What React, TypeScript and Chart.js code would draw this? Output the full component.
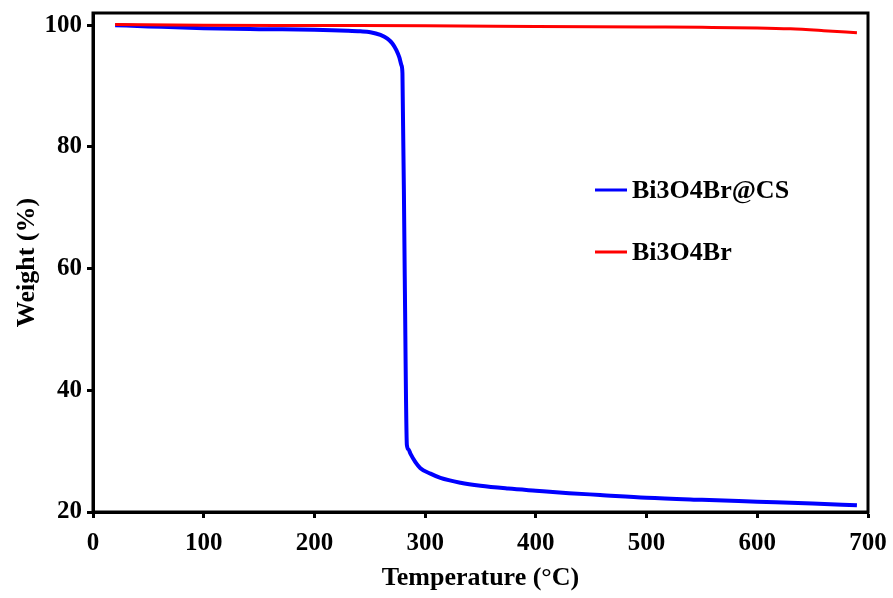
import React, { useEffect, useRef } from "react";
import { Chart, registerables } from "chart.js";

Chart.register(...registerables);

const seriesNames = ["Bi3O4Br@CS", "Bi3O4Br"];
const seriesColors = ["#0000ff", "#ff0000"];

const csTemp = [20, 50, 100, 150, 200, 230, 241.5, 250.5, 259.6, 265.9, 270.4, 274.0, 276.7, 278.6, 279.5, 281.5, 283.5, 284.9, 286.7, 291.2, 295.7, 304.8, 313.8, 331.9, 350, 375, 400, 430, 458, 500, 550, 600, 650, 690];
const csWeight = [100.0, 99.8, 99.5, 99.35, 99.25, 99.1, 99.0, 98.85, 98.4, 97.8, 97.0, 95.9, 94.7, 93.4, 92.1, 60, 31.0, 30.3, 29.6, 28.2, 27.2, 26.3, 25.6, 24.8, 24.3, 23.85, 23.5, 23.1, 22.8, 22.35, 22.0, 21.7, 21.4, 21.1];

const bTemp = [20, 100, 200, 300, 400, 500, 550, 600, 630, 660, 690];
const bWeight = [100.1, 100.0, 99.95, 99.9, 99.8, 99.7, 99.65, 99.55, 99.4, 99.1, 98.75];

const xTicks = [0, 100, 200, 300, 400, 500, 600, 700];
const yTicks = [20, 40, 60, 80, 100];

const FONT = "'Liberation Serif', 'Times New Roman', serif";

export default function App() {
  const ref = useRef<HTMLCanvasElement | null>(null);
  useEffect(() => {
    document.body.style.margin = "0";
    const ctx = ref.current!;
    const framePlugin = {
      id: "frame",
      afterDatasetsDraw(chart: any) {
        const { ctx, chartArea } = chart;
        ctx.save();
        ctx.strokeStyle = "#000";
        ctx.lineWidth = 3;
        ctx.strokeRect(chartArea.left, chartArea.top, chartArea.right - chartArea.left, chartArea.bottom - chartArea.top);
        const items = [
          { y: 190, i: 0 },
          { y: 252, i: 1 },
        ];
        ctx.font = `bold 26px ${FONT}`;
        ctx.textBaseline = "middle";
        items.forEach(({ y, i }) => {
          ctx.strokeStyle = seriesColors[i];
          ctx.lineWidth = 3;
          ctx.beginPath();
          ctx.moveTo(595, y);
          ctx.lineTo(627, y);
          ctx.stroke();
          ctx.fillStyle = "#000";
          ctx.fillText(seriesNames[i], 632, y + 1);
        });
        ctx.restore();
      },
    };
    const chart = new Chart(ctx, {
      type: "line",
      data: {
        datasets: [
          {
            label: seriesNames[1],
            data: bTemp.map((t, i) => ({ x: t, y: bWeight[i] })),
            borderColor: seriesColors[1],
            borderWidth: 3,
            pointRadius: 0,
            cubicInterpolationMode: "monotone",
          },
          {
            label: seriesNames[0],
            data: csTemp.map((t, i) => ({ x: t, y: csWeight[i] })),
            borderColor: seriesColors[0],
            borderWidth: 4,
            pointRadius: 0,
            cubicInterpolationMode: "monotone",
            borderJoinStyle: "round",
          },
        ],
      },
      options: {
        responsive: false,
        animation: false,
        layout: { padding: { top: 13, right: 25, left: 0, bottom: 0 } },
        plugins: { legend: { display: false }, tooltip: { enabled: false } },
        scales: {
          x: {
            type: "linear",
            min: 0,
            max: 700,
            afterBuildTicks: (s: any) => {
              s.ticks = xTicks.map((v) => ({ value: v }));
            },
            afterFit: (s: any) => {
              s.height = 86;
            },
            grid: { drawOnChartArea: false, drawTicks: true, tickLength: 6, tickWidth: 3, color: "#000" },
            border: { display: true, width: 3, color: "#000" },
            ticks: { color: "#000", font: { family: FONT, size: 25, weight: "bold", lineHeight: 1.85 }, padding: 2, maxRotation: 0 },
            title: {
              display: true,
              text: "Temperature (°C)",
              color: "#000",
              font: { family: FONT, size: 26, weight: "bold" },
              padding: { top: 0, bottom: 4 },
            },
          },
          y: {
            type: "linear",
            min: 20,
            max: 102,
            afterBuildTicks: (s: any) => {
              s.ticks = yTicks.map((v) => ({ value: v }));
            },
            afterFit: (s: any) => {
              s.width = 93;
            },
            grid: { drawOnChartArea: false, drawTicks: true, tickLength: 6, tickWidth: 3, color: "#000" },
            border: { display: true, width: 3, color: "#000" },
            ticks: { color: "#000", font: { family: FONT, size: 25, weight: "bold", lineHeight: 0.6 }, padding: 5 },
            title: {
              display: true,
              text: "Weight (%)",
              color: "#000",
              font: { family: FONT, size: 26, weight: "bold" },
              padding: { top: 12, bottom: 0 },
            },
          },
        },
      },
      plugins: [framePlugin],
    });
    return () => chart.destroy();
  }, []);
  return (
    <div style={{ width: 893, height: 598 }}>
      <canvas ref={ref} width={893} height={598} />
    </div>
  );
}
